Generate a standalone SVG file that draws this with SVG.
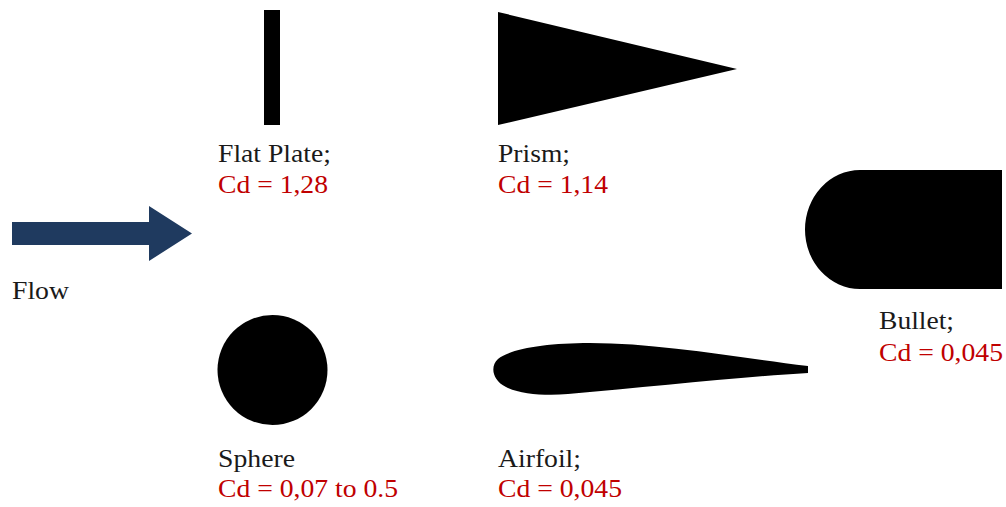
<svg xmlns="http://www.w3.org/2000/svg" width="1006" height="507" viewBox="0 0 1006 507">
<style>
.lbl{font-family:"Liberation Serif","Times New Roman",serif;font-size:26px;fill:#1a1a1a}
.cd{font-family:"Liberation Serif","Times New Roman",serif;font-size:26px;fill:#c00000}
.shape{fill:#000}
</style>
<rect width="1006" height="507" fill="#fff"/>
<g id="flow">
<path d="M12,222 H149 V206 L192,233.5 L149,261 V245 H12 Z" fill="#1f3a5f"/>
<text class="lbl" x="12" y="299" textLength="57" lengthAdjust="spacingAndGlyphs">Flow</text>
</g>
<g id="flat-plate">
<rect class="shape" x="264" y="10" width="16" height="115"/>
<text class="lbl" x="218" y="162" textLength="113" lengthAdjust="spacingAndGlyphs">Flat Plate;</text>
<text class="cd" x="218" y="193" textLength="110" lengthAdjust="spacingAndGlyphs">Cd = 1,28</text>
</g>
<g id="prism">
<polygon class="shape" points="498,12 737,69 498,125"/>
<text class="lbl" x="498" y="162" textLength="72" lengthAdjust="spacingAndGlyphs">Prism;</text>
<text class="cd" x="498" y="193" textLength="110" lengthAdjust="spacingAndGlyphs">Cd = 1,14</text>
</g>
<g id="bullet">
<path class="shape" d="M860,170 H1002 V289 H860 A55,59.5 0 0 1 805,229.5 A55,59.5 0 0 1 860,170 Z"/>
<text class="lbl" x="879" y="329" textLength="75" lengthAdjust="spacingAndGlyphs">Bullet;</text>
<text class="cd" x="879" y="361" textLength="124" lengthAdjust="spacingAndGlyphs">Cd = 0,045</text>
</g>
<g id="sphere">
<circle class="shape" cx="272.5" cy="370" r="55"/>
<text class="lbl" x="218" y="467" textLength="77" lengthAdjust="spacingAndGlyphs">Sphere</text>
<text class="cd" x="218" y="497" textLength="180" lengthAdjust="spacingAndGlyphs">Cd = 0,07 to 0.5</text>
</g>
<g id="airfoil">
<path class="shape" d="M808,366 C740,358 660,343 590,343 C545,343 510,349 498,359 C490,366 492,380 506,387 C520,394 545,396 568,394 C650,387 740,377 808,373 Z"/>
<text class="lbl" x="498" y="467" textLength="83" lengthAdjust="spacingAndGlyphs">Airfoil;</text>
<text class="cd" x="498" y="497" textLength="124" lengthAdjust="spacingAndGlyphs">Cd = 0,045</text>
</g>
<g id="connectors"/>
</svg>
